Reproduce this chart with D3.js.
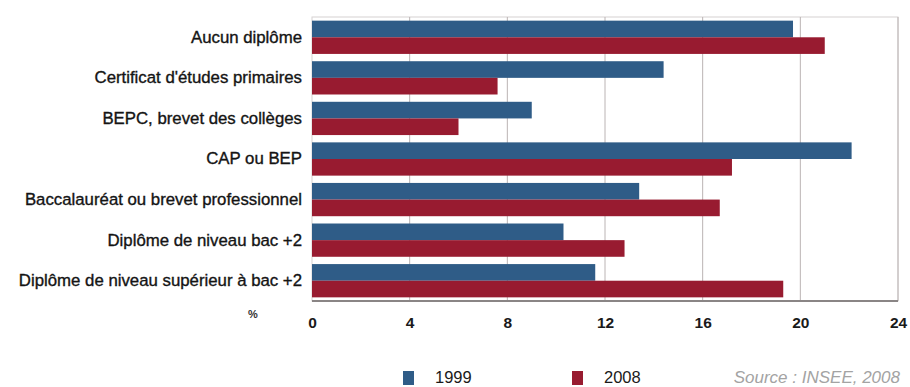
<!DOCTYPE html>
<html>
<head>
<meta charset="utf-8">
<script src="https://cdn.jsdelivr.net/npm/d3@7"></script>
<style>
  html, body { margin: 0; padding: 0; background: #ffffff; }
  svg { display: block; }
  text { font-family: "Liberation Sans", Arial, sans-serif; }
</style>
</head>
<body>
<svg id="chart" width="910" height="387"></svg>
<script>
// Diplômes : répartition en % (1999 / 2008)
const categories = [
  "Aucun diplôme",
  "Certificat d'études primaires",
  "BEPC, brevet des collèges",
  "CAP ou BEP",
  "Baccalauréat ou brevet professionnel",
  "Diplôme de niveau bac +2",
  "Diplôme de niveau supérieur à bac +2"
];
const years = ["1999", "2008"];
const values1999 = [19.7, 14.4, 9.0, 22.1, 13.4, 10.3, 11.6];
const values2008 = [21.0, 7.6, 6.0, 17.2, 16.7, 12.8, 19.3];
const tickValues = [0, 4, 8, 12, 16, 20, 24];
const sourceText = "Source : INSEE, 2008";

const colors = { "1999": "#2f5c87", "2008": "#981b30" };

const svg = d3.select("#chart");
const plot = { left: 312, right: 898, top: 17, bottom: 301 };

const x = d3.scaleLinear().domain([0, 24]).range([plot.left, plot.right]);
const y = d3.scaleBand().domain(categories).range([plot.top, plot.bottom])
  .paddingInner(0.18).paddingOuter(0.09);
const ySub = d3.scaleBand().domain(years).range([0, y.bandwidth()]);

const rows = categories.map((c, i) => ({
  cat: c,
  bars: [
    { year: "1999", v: values1999[i] },
    { year: "2008", v: values2008[i] }
  ]
}));

// plot frame
svg.append("rect")
  .attr("x", plot.left).attr("y", plot.top)
  .attr("width", plot.right - plot.left).attr("height", plot.bottom - plot.top)
  .attr("fill", "#ffffff").attr("stroke", "#d6d2d2").attr("stroke-width", 1);

// vertical grid
svg.append("g")
  .selectAll("line")
  .data(tickValues.slice(1))
  .join("line")
  .attr("x1", d => x(d)).attr("x2", d => x(d))
  .attr("y1", plot.top).attr("y2", plot.bottom)
  .attr("stroke", "#bbb4b4").attr("stroke-width", 1);

// bars
const groups = svg.append("g")
  .selectAll("g")
  .data(rows)
  .join("g")
  .attr("transform", d => `translate(0,${y(d.cat)})`);

groups.selectAll("rect")
  .data(d => d.bars)
  .join("rect")
  .attr("x", x(0))
  .attr("y", d => ySub(d.year))
  .attr("width", d => x(d.v) - x(0))
  .attr("height", ySub.bandwidth())
  .attr("fill", d => colors[d.year]);

// bottom axis line
svg.append("line")
  .attr("x1", plot.left).attr("x2", plot.right)
  .attr("y1", plot.bottom).attr("y2", plot.bottom)
  .attr("stroke", "#8a8585").attr("stroke-width", 2);

// x tick labels
const xAxis = d3.axisBottom(x).tickValues(tickValues).tickSize(0).tickPadding(0);
const gx = svg.append("g")
  .attr("transform", `translate(0,${plot.bottom + 16})`)
  .call(xAxis);
gx.select(".domain").remove();
gx.selectAll("text")
  .attr("fill", "#1a1a1a")
  .attr("font-size", 15.5)
  .attr("font-weight", "bold")
  .attr("font-family", "'Liberation Sans', Arial, sans-serif");

// y category labels
const yAxis = d3.axisLeft(y).tickSize(0).tickPadding(10);
const gy = svg.append("g")
  .attr("transform", `translate(${plot.left},0)`)
  .call(yAxis);
gy.select(".domain").remove();
gy.selectAll("text")
  .attr("fill", "#141414")
  .attr("stroke", "#141414")
  .attr("stroke-width", 0.35)
  .attr("font-size", 16.8)
  .attr("font-family", "'Liberation Sans', Arial, sans-serif");

// unit label
svg.append("text")
  .attr("x", 253).attr("y", 318)
  .attr("text-anchor", "middle")
  .attr("font-size", 11).attr("font-weight", "bold")
  .attr("fill", "#333")
  .text("%");

// legend
const legendX = d3.scaleOrdinal().domain(years).range([403, 572]);
const legend = svg.append("g")
  .selectAll("g")
  .data(years)
  .join("g")
  .attr("transform", d => `translate(${legendX(d)},371)`);
legend.append("rect")
  .attr("width", 11).attr("height", 14)
  .attr("fill", d => colors[d]);
legend.append("text")
  .attr("x", 32).attr("y", 12)
  .attr("font-size", 16.5)
  .attr("fill", "#1a1a1a")
  .text(d => d);

// source
svg.append("text")
  .attr("x", 900).attr("y", 383)
  .attr("text-anchor", "end")
  .attr("font-size", 17)
  .attr("font-style", "italic")
  .attr("fill", "#a3a3a3")
  .text(sourceText);
</script>
</body>
</html>
